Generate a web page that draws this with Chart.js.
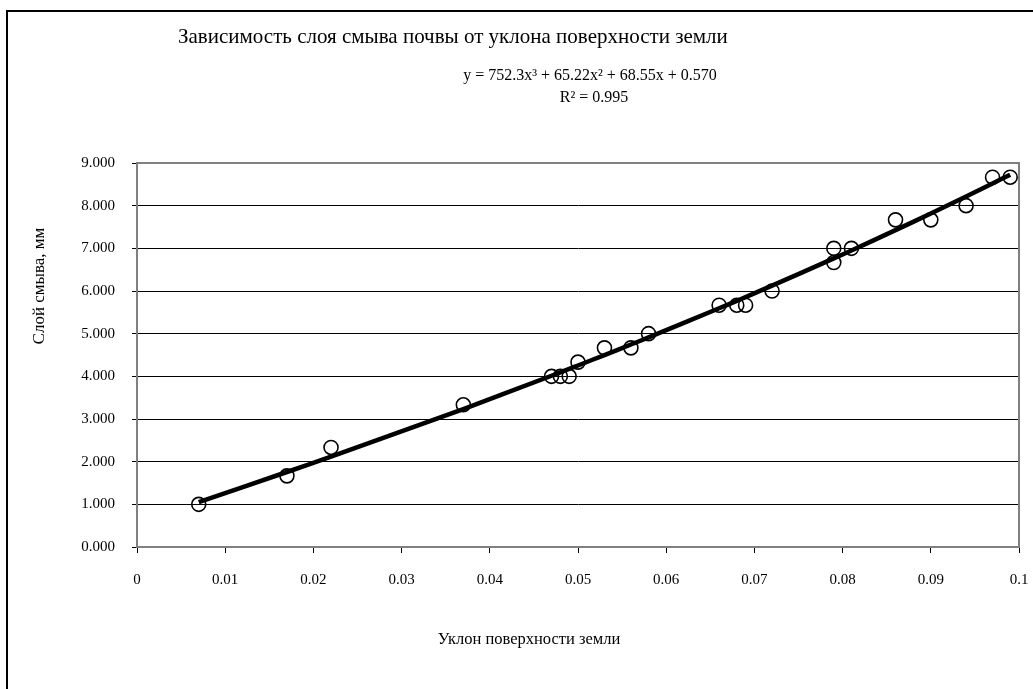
<!DOCTYPE html>
<html>
<head>
<meta charset="utf-8">
<script src="https://cdn.jsdelivr.net/npm/chart.js@4/dist/chart.umd.min.js"></script>
<style>
  html, body { margin: 0; padding: 0; background: #fff; overflow: hidden; }
  #wrap { position: relative; width: 1033px; height: 689px; }
  #frame { position: absolute; left: 6px; top: 10px; width: 1200px; height: 900px;
           border-left: 2px solid #000; border-top: 2px solid #000; pointer-events: none; }
  canvas { position: absolute; left: 0; top: 0; }
</style>
</head>
<body>
<div id="wrap">
  <canvas id="chart" width="1033" height="689"></canvas>
  <div id="frame"></div>
</div>
<script>
// уклон поверхности и слой смыва (мм)
var slope = [0.007, 0.017, 0.022, 0.037, 0.047, 0.048, 0.049, 0.050, 0.053, 0.056, 0.058, 0.066,
             0.068, 0.069, 0.072, 0.079, 0.079, 0.081, 0.086, 0.090, 0.094, 0.097, 0.099];
var layer = [1.000, 1.667, 2.333, 3.333, 4.000, 4.000, 4.000, 4.333, 4.667, 4.667, 5.000, 5.667,
             5.667, 5.667, 6.000, 6.667, 7.000, 7.000, 7.667, 7.667, 8.000, 8.667, 8.667];

// полиномиальный тренд 3-й степени, как подписан на графике
var trendCoef = [752.3, 65.22, 68.55, 0.570];
var trendLabel = "y = 752.3x\u00B3 + 65.22x\u00B2 + 68.55x + 0.570";
var r2Label = "R\u00B2 = 0.995";

var title = "Зависимость слоя смыва почвы от уклона поверхности земли";
var xTitle = "Уклон поверхности земли";
var yTitle = "Слой смыва, мм";

var points = slope.map(function (x, i) { return { x: x, y: layer[i] }; });
var trend = slope.map(function (x) {
    var c = trendCoef;
    return { x: x, y: c[0] * x * x * x + c[1] * x * x + c[2] * x + c[3] };
});

var serif = "'Liberation Serif', 'Times New Roman', serif";

var textPlugin = {
    id: 'texts',
    beforeDatasetsDraw: function (chart) {
        var a = chart.chartArea, ctx = chart.ctx;
        ctx.save();
        ctx.strokeStyle = '#808080';
        ctx.lineWidth = 2;
        ctx.strokeRect(a.left, a.top, a.right - a.left, a.bottom - a.top);
        ctx.restore();
    },
    afterDraw: function (chart) {
        var ctx = chart.ctx;
        ctx.save();
        ctx.fillStyle = '#000';
        ctx.textBaseline = 'alphabetic';
        ctx.font = '21px ' + serif;
        ctx.textAlign = 'left';
        ctx.fillText(title, 178, 43);
        ctx.textBaseline = 'middle';
        ctx.font = '16px ' + serif;
        ctx.textAlign = 'center';
        ctx.fillText(trendLabel, 590, 76);
        ctx.fillText(r2Label, 594, 98);
        ctx.font = '16.5px ' + serif;
        ctx.fillText(xTitle, 529, 640);
        ctx.translate(40, 286);
        ctx.rotate(-Math.PI / 2);
        ctx.font = '17px ' + serif;
        ctx.fillText(yTitle, 0, 0);
        ctx.restore();
    }
};

new Chart(document.getElementById('chart'), {
    type: 'scatter',
    data: {
        datasets: [
            {
                data: trend,
                showLine: true,
                borderColor: '#000',
                borderWidth: 4.5,
                pointRadius: 0,
                tension: 0.3,
                order: 0
            },
            {
                data: points,
                borderColor: '#000',
                backgroundColor: 'rgba(0,0,0,0)',
                borderWidth: 1.6,
                pointRadius: 7,
                order: 1
            }
        ]
    },
    options: {
        responsive: false,
        animation: false,
        layout: { padding: { top: 163, right: 14, left: 0, bottom: 0 } },
        plugins: { legend: { display: false }, tooltip: { enabled: false } },
        scales: {
            x: {
                type: 'linear',
                min: 0,
                max: 0.1,
                afterFit: function (s) { s.height = 142; s.paddingRight = 0; s.paddingLeft = 0; },
                ticks: {
                    stepSize: 0.01,
                    padding: 18,
                    color: '#000',
                    font: { family: serif, size: 15 },
                    maxRotation: 0,
                    callback: function (v) { return String(Number(v.toFixed(2))); }
                },
                grid: { drawOnChartArea: false, tickLength: 6, tickColor: '#000', color: '#000' },
                border: { color: '#808080', width: 2 }
            },
            y: {
                min: 0,
                max: 9,
                afterFit: function (s) { s.width = 137; s.paddingTop = 0; s.paddingBottom = 0; },
                ticks: {
                    stepSize: 1,
                    padding: 17,
                    color: '#000',
                    font: { family: serif, size: 15 },
                    callback: function (v) { return v.toFixed(3); }
                },
                grid: { color: '#000', lineWidth: 1, tickLength: 5, tickColor: '#000' },
                border: { color: '#808080', width: 2 }
            }
        }
    },
    plugins: [textPlugin]
});
</script>
</body>
</html>
